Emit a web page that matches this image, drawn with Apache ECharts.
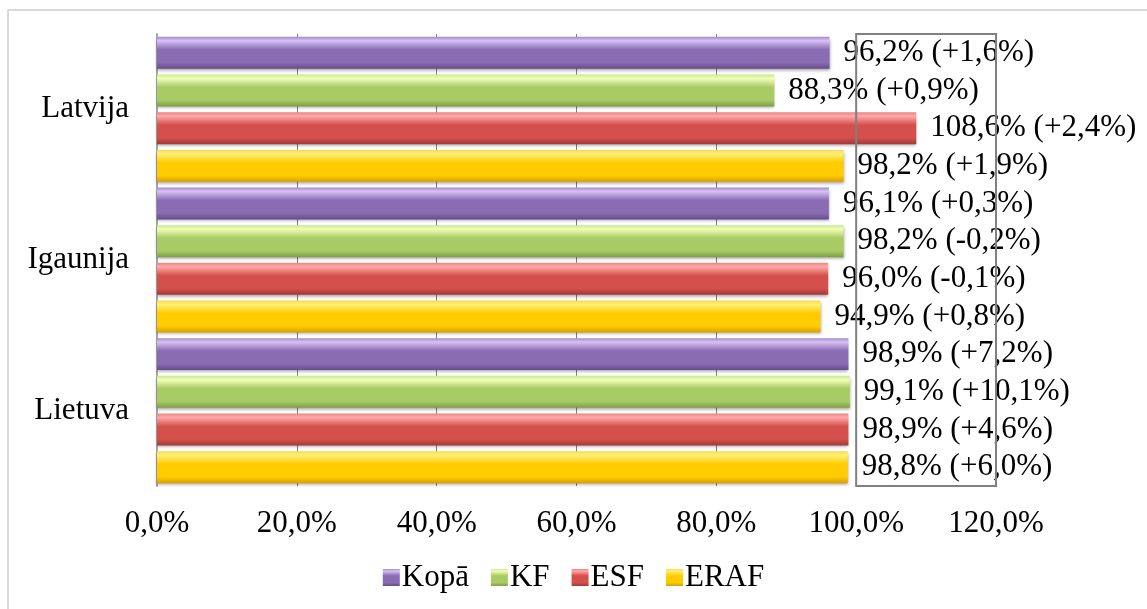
<!DOCTYPE html>
<html>
<head>
<meta charset="utf-8">
<script src="https://cdn.jsdelivr.net/npm/echarts@6/dist/echarts.min.js"></script>
<style>
html,body{margin:0;padding:0;background:#fff;}
#chart{width:1147px;height:609px;}
</style>
</head>
<body>
<div id="chart"></div>
<script>
var categories = ['Lietuva', 'Igaunija', 'Latvija'];
var xTicks = [0, 20, 40, 60, 80, 100, 120];
var legendOrder = ['Kopā', 'KF', 'ESF', 'ERAF'];

var eraf = [98.8, 94.9, 98.2];
var erafChange = [6.0, 0.8, 1.9];
var esf = [98.9, 96.0, 108.6];
var esfChange = [4.6, -0.1, 2.4];
var kf = [99.1, 98.2, 88.3];
var kfChange = [10.1, -0.2, 0.9];
var kopa = [98.9, 96.1, 96.2];
var kopaChange = [7.2, 0.3, 1.6];

var boxRange = [100, 120];

function fmt(v) { return v.toFixed(1).replace('.', ','); }
function fmtChange(v) { return (v >= 0 ? '+' : '') + fmt(v); }

function grad(top, hi, mid, bot) {
  return new echarts.graphic.LinearGradient(0, 0, 0, 1, [
    {offset: 0, color: top},
    {offset: 0.12, color: hi},
    {offset: 0.4, color: mid},
    {offset: 0.8, color: mid},
    {offset: 1, color: bot}
  ]);
}

var styles = {
  'ERAF': {fill: grad('#ffd84a', '#fff07a', '#ffcc00', '#d9a000'), legend: '#ffc000'},
  'ESF': {fill: grad('#e88582', '#ffa9a6', '#d4504c', '#a23a37'), legend: '#c0504d'},
  'KF': {fill: grad('#c8e88a', '#f2ffb8', '#a8cb66', '#7f9e44'), legend: '#9bbb59'},
  'Kopā': {fill: grad('#a88ad0', '#d6c2f5', '#8a6cb2', '#664c8c'), legend: '#8064a2'}
};

var FONT = 'Liberation Serif';
var FS = 31;

function mkSeries(name, vals, changes, extra) {
  var s = {
    name: name,
    type: 'bar',
    data: vals,
    barGap: '18%',
    barCategoryGap: '3.8%',
    itemStyle: {
      color: styles[name].fill,
      shadowColor: 'rgba(0,0,0,0.35)',
      shadowBlur: 3,
      shadowOffsetY: 2
    },
    label: {
      show: true,
      position: 'right',
      distance: 14,
      fontFamily: FONT,
      fontSize: FS,
      color: '#000',
      formatter: function (p) {
        return fmt(p.value) + '% (' + fmtChange(changes[p.dataIndex]) + '%)';
      }
    },
    emphasis: {disabled: true}
  };
  if (extra) { for (var k in extra) s[k] = extra[k]; }
  return s;
}

var chart = echarts.init(document.getElementById('chart'));
chart.setOption({
  backgroundColor: '#fff',
  animation: false,
  grid: {left: 157, right: 151, top: 34, bottom: 123, containLabel: false},
  legend: {
    data: legendOrder,
    top: 557,
    left: 'center',
    itemWidth: 17,
    itemHeight: 17,
    itemGap: 22,
    icon: 'rect',
    textStyle: {fontFamily: FONT, fontSize: FS, color: '#000', padding: [0, 0, 0, -3]}
  },
  xAxis: {
    type: 'value',
    min: xTicks[0],
    max: xTicks[xTicks.length - 1],
    interval: 20,
    axisLine: {show: false},
    axisTick: {show: false},
    splitLine: {show: true, lineStyle: {color: '#7f7f7f', width: 1}},
    axisLabel: {
      fontFamily: FONT,
      fontSize: FS,
      color: '#000',
      margin: 22,
      formatter: function (v) { return fmt(v) + '%'; }
    }
  },
  yAxis: {
    type: 'category',
    data: categories,
    axisLine: {show: true, lineStyle: {color: '#a6a6a6', width: 2}},
    axisTick: {show: false},
    axisLabel: {fontFamily: FONT, fontSize: FS, color: '#000', margin: 28}
  },
  series: [
    mkSeries('Kopā', kopa, kopaChange, {
      markArea: {
        silent: true,
        z: 5,
        itemStyle: {color: 'rgba(0,0,0,0)', borderColor: '#808080', borderWidth: 2},
        label: {show: false},
        data: [[{xAxis: boxRange[0]}, {xAxis: boxRange[1]}]]
      }
    }),
    mkSeries('KF', kf, kfChange),
    mkSeries('ESF', esf, esfChange),
    mkSeries('ERAF', eraf, erafChange)
  ],
  graphic: [
    {type: 'line', shape: {x1: 8, y1: 10, x2: 1147, y2: 10}, style: {stroke: '#d9d9d9', lineWidth: 2}},
    {type: 'line', shape: {x1: 8, y1: 10, x2: 8, y2: 609}, style: {stroke: '#d9d9d9', lineWidth: 2}}
  ]
});
</script>
</body>
</html>
